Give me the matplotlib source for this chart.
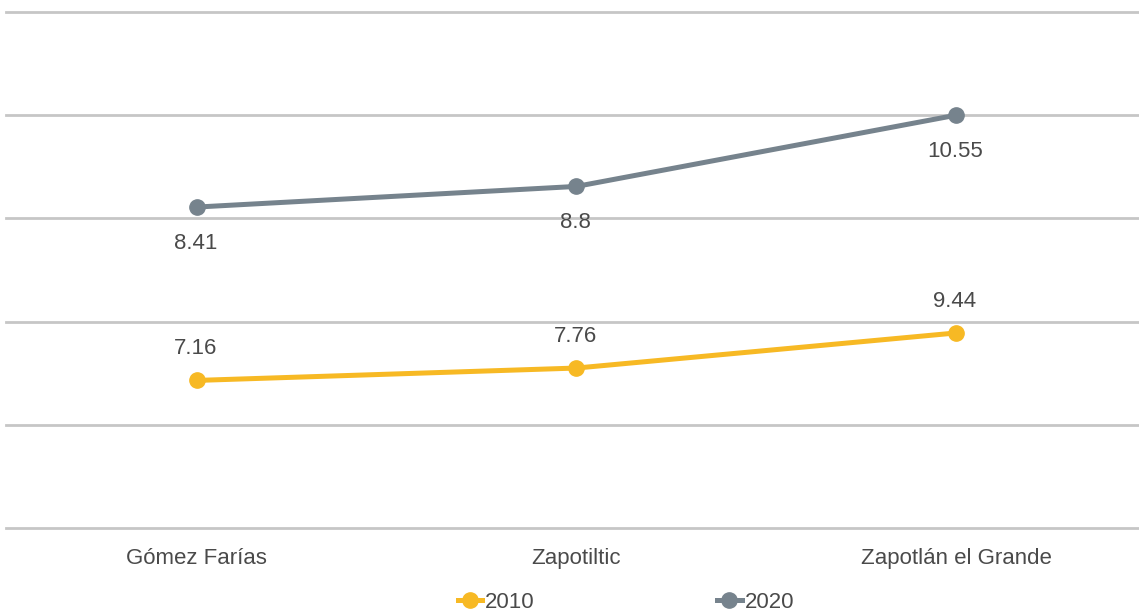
import matplotlib.pyplot as plt
from matplotlib.lines import Line2D

# categories and series (labels as printed; y positions, grid = 0..5)
municipios = ['Gómez Farías', 'Zapotiltic', 'Zapotlán el Grande']
labels_2010 = [7.16, 7.76, 9.44]
labels_2020 = [8.41, 8.8, 10.55]
pos_2010 = [1.43, 1.55, 1.89]
pos_2020 = [3.11, 3.31, 4.00]

c2010 = '#F7B924'
c2020 = '#76838D'
txt = '#4A4A4A'
fs = 16

plt.rcParams['font.family'] = ['Liberation Sans', 'DejaVu Sans']

fig = plt.figure(figsize=(11.39, 6.15), dpi=100)
ax = fig.add_axes([6 / 1139, 1 - 528 / 615, 1133 / 1139, 516 / 615])

x = range(len(municipios))
ax.plot(x, pos_2010, color=c2010, lw=3.6, marker='o', ms=11, zorder=3)
ax.plot(x, pos_2020, color=c2020, lw=3.6, marker='o', ms=11, zorder=3)

# data labels: 2010 above, 2020 below
for i in x:
    ax.annotate(str(labels_2010[i]), (i, pos_2010[i]), xytext=(-1, 23), textcoords='offset points',
                ha='center', va='center', fontsize=fs, color=txt)
    ax.annotate(str(labels_2020[i]), (i, pos_2020[i]), xytext=(-1, -26), textcoords='offset points',
                ha='center', va='center', fontsize=fs, color=txt)

ax.set_xlim(-0.503, 2.482)
ax.set_ylim(0, 5)
ax.set_yticks(range(6))
ax.yaxis.grid(True, color='#C6C6C6', lw=2)
for gl in ax.get_ygridlines():
    gl.set_clip_on(False)
ax.set_axisbelow(True)
ax.tick_params(left=False, labelleft=False, bottom=False)
for s in ax.spines.values():
    s.set_visible(False)
ax.set_xticks(list(x))
ax.set_xticklabels(municipios, fontsize=fs, color=txt)
ax.tick_params(axis='x', pad=11)

handles = [Line2D([], [], color=c2010, lw=3.6, marker='o', ms=11),
           Line2D([], [], color=c2020, lw=3.6, marker='o', ms=11)]
fig.legend(handles, ['2010', '2020'], loc='center', bbox_to_anchor=(0.5496, 1 - 602 / 615),
           ncol=2, frameon=False, fontsize=fs, labelcolor=txt, handlelength=1.1,
           handletextpad=0.15, columnspacing=8.2)

fig.savefig('out.png', dpi=100)
